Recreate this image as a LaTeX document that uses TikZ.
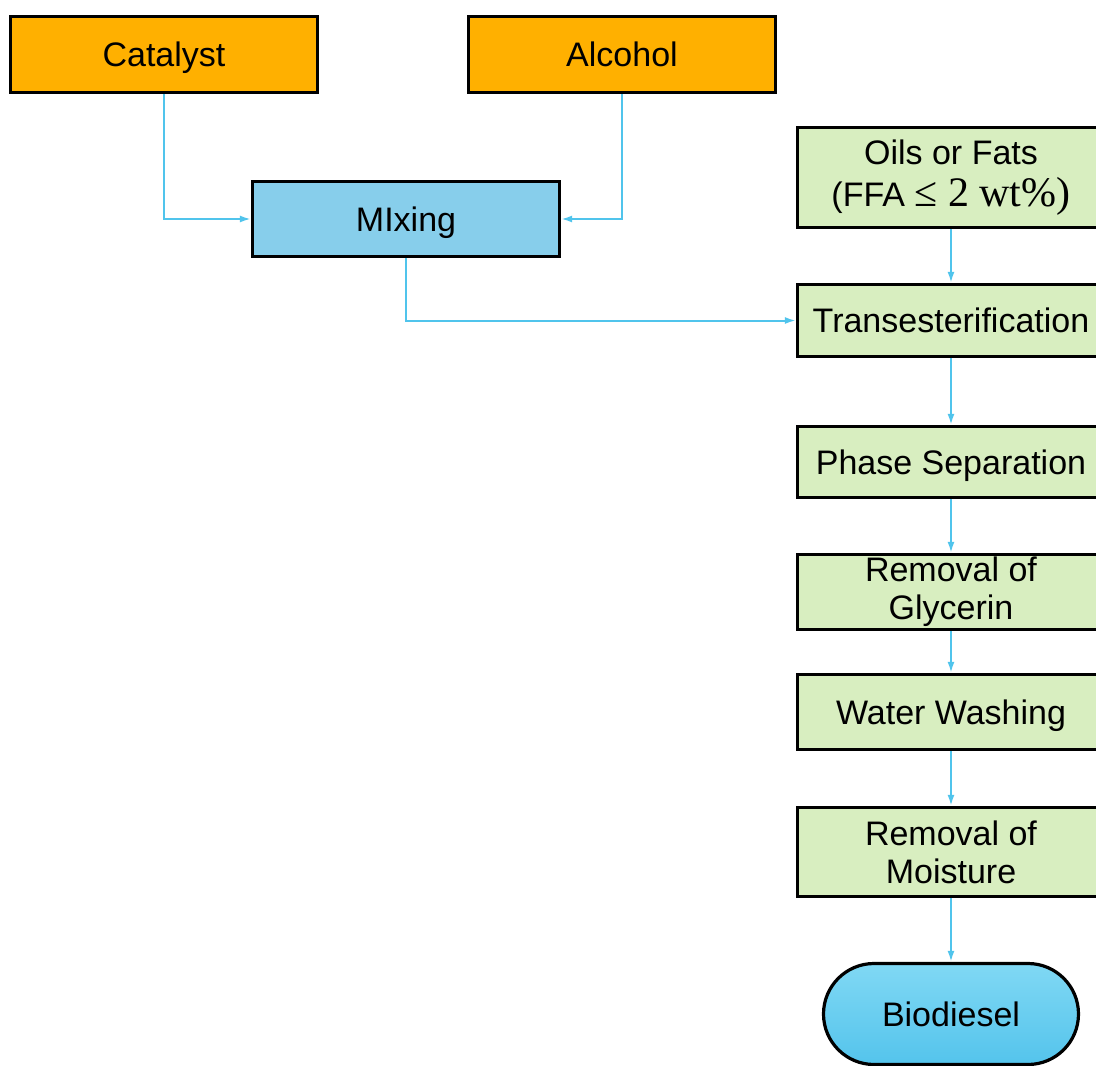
\documentclass[tikz,border=0pt]{standalone}
\usepackage{fontspec}
\setmainfont{Liberation Sans}
\newfontfamily\timesfont{Liberation Serif}
\usetikzlibrary{arrows.meta, positioning, calc, shapes.misc}
\definecolor{feedorange}{RGB}{255, 176, 0}
\definecolor{mixblue}{RGB}{135, 206, 235}
\definecolor{stepgreen}{RGB}{216, 238, 192}
\definecolor{flowcyan}{RGB}{80, 196, 236}
\definecolor{pillblue}{RGB}{128, 216, 244}
\definecolor{pillblue2}{RGB}{84, 196, 236}

\begin{document}
\begin{tikzpicture}[x=1pt, y=-1pt,
  box/.style={draw=black, line width=3.2pt, minimum width=307pt, inner sep=0pt, align=center, font=\fontsize{34}{38}\selectfont},
  oneline/.style={text height=24pt, text depth=0pt},
  flow/.style={draw=flowcyan, line width=2pt, -{Latex[length=11pt, width=7pt]}}]
  \useasboundingbox (0, 0) rectangle (1096, 1066);

  % Feeds
  \node[box, oneline, fill=feedorange, minimum height=76pt] (cat) at (164, 54.5) {Catalyst};
  \node[box, oneline, fill=feedorange, minimum height=76pt] (alc) at (622, 54.5) {Alcohol};
  \node[box, oneline, fill=mixblue, minimum height=75pt] (mix) at (406, 219) {MIxing};

  % Process chain
  \node[box, fill=stepgreen, minimum height=100pt] (oil) at (951, 177.5) {Oils or Fats\\[4pt](FFA {\timesfont\fontsize{42}{42}\selectfont ≤ 2 wt\%)}};
  \node[box, oneline, fill=stepgreen, minimum height=72pt] (trans) at (951, 320.5) {Transesterification};
  \node[box, oneline, fill=stepgreen, minimum height=71pt] (phase) at (951, 462) {Phase Separation};
  \node[box, fill=stepgreen, minimum height=75pt] (glyc) at (951, 592) {Removal of\\Glycerin};
  \node[box, oneline, fill=stepgreen, minimum height=75pt] (wash) at (951, 712) {Water Washing};
  \node[box, fill=stepgreen, minimum height=89pt] (moist) at (951, 852) {Removal of\\Moisture};
  \node[box, oneline, rounded rectangle, shading angle=60, top color=pillblue, bottom color=pillblue2, minimum width=255pt, minimum height=101pt] (bio) at (951, 1014) {Biodiesel};

  % Connectors
  \draw[flow] (cat.south) |- (mix.west);
  \draw[flow] (alc.south) |- (mix.east);
  \draw[flow] (mix.south) |- (trans.west);
  \foreach \a/\b in {oil/trans, trans/phase, phase/glyc, glyc/wash, wash/moist, moist/bio}
    \draw[flow] (\a) -- (\b);
\end{tikzpicture}
\end{document}
